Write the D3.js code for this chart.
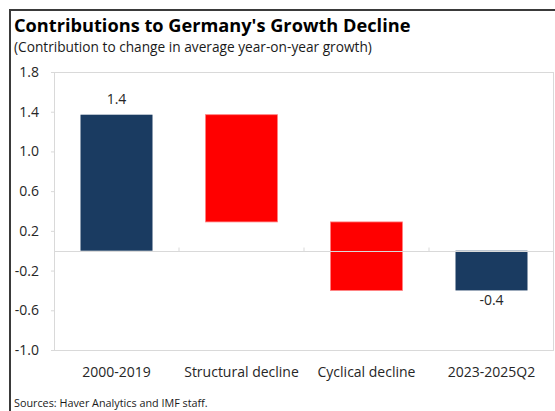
<!DOCTYPE html>
<html>
<head>
<meta charset="utf-8">
<script src="https://cdn.jsdelivr.net/npm/d3@7"></script>
<style>
  html, body { margin: 0; padding: 0; background: #fff; }
  svg { display: block; font-family: "Open Sans", "Noto Sans", sans-serif; }
</style>
</head>
<body>
<svg id="chart" width="555" height="411"></svg>
<script>
// Waterfall: starting growth, two contributions, ending growth
const categories = ["2000-2019", "Structural decline", "Cyclical decline", "2023-2025Q2"];
const values = [1.37, -1.08, -0.69, -0.40];
const kinds = ["total", "change", "change", "total"];
const yTicks = [-1.0, -0.6, -0.2, 0.2, 0.6, 1.0, 1.4, 1.8];

const title = "Contributions to Germany's Growth Decline";
const subtitle = "(Contribution to change in average year-on-year growth)";
const source = "Sources: Haver Analytics and IMF staff.";

const colors = { total: "#1a3b61", change: "#ff0000" };

const svg = d3.select("#chart");
const W = 555, H = 411;
const plot = { left: 54, top: 72, right: 553.5, bottom: 350 };

// build floating segments
let running = 0;
const bars = categories.map((c, i) => {
  let y0, y1;
  if (kinds[i] === "total") { y0 = 0; y1 = values[i]; running = values[i]; }
  else { y0 = running; y1 = running + values[i]; running = y1; }
  return { cat: c, kind: kinds[i], value: values[i], y0, y1 };
});

const x = d3.scaleBand()
  .domain(categories)
  .range([plot.left, 554])
  .paddingInner(0.424)
  .paddingOuter(0.212);

const y = d3.scaleLinear()
  .domain([-1.0, 1.8])
  .range([plot.bottom, plot.top]);

// outer frame (top and left edges visible)
svg.append("rect")
  .attr("x", 10).attr("y", 10)
  .attr("width", W + 10).attr("height", H + 10)
  .attr("fill", "none").attr("stroke", "#3a3a3a").attr("stroke-width", 2);

// titles
svg.append("text").attr("x", 14).attr("y", 32)
  .attr("font-size", 18.2).attr("font-weight", 700).attr("fill", "#000")
  .text(title);
svg.append("text").attr("x", 14).attr("y", 52)
  .attr("font-size", 13.7).attr("fill", "#1a1a1a")
  .text(subtitle);

// plot area border
svg.append("rect")
  .attr("x", plot.left + 0.5).attr("y", plot.top + 0.5)
  .attr("width", plot.right - plot.left - 0.5).attr("height", plot.bottom - plot.top)
  .attr("fill", "none").attr("stroke", "#d9d9d9").attr("stroke-width", 1);

// y axis
const yAxis = svg.append("g")
  .attr("transform", `translate(${plot.left},0)`)
  .call(d3.axisLeft(y).tickValues(yTicks).tickFormat(d3.format(".1f")).tickSize(3).tickPadding(12));
yAxis.select(".domain").remove();
yAxis.selectAll(".tick line").attr("stroke", "#d9d9d9");
yAxis.selectAll(".tick text")
  .attr("font-size", 14).attr("fill", "#262626")
  .attr("font-family", "'Open Sans', sans-serif")
  .text(d => d3.format(".1f")(d).replace("−", "-"));

// bars
svg.append("g").selectAll("rect")
  .data(bars)
  .join("rect")
  .attr("x", d => x(d.cat))
  .attr("width", x.bandwidth())
  .attr("y", d => y(Math.max(d.y0, d.y1)))
  .attr("height", d => Math.abs(y(d.y0) - y(d.y1)))
  .attr("fill", d => colors[d.kind])
  .attr("stroke", d => d.kind === "change" ? "#ff8080" : "none")
  .attr("stroke-width", 0.8);

// zero line with category ticks
const y0px = Math.round(y(0)) + 0.5;
svg.append("line")
  .attr("x1", plot.left).attr("x2", plot.right)
  .attr("y1", y0px).attr("y2", y0px)
  .attr("stroke", "#d9d9d9").attr("stroke-width", 1.2);
const boundaries = categories.slice(1).map(c => x(c) - x.step() * x.paddingInner() / 2);
svg.append("g").selectAll("line")
  .data(boundaries)
  .join("line")
  .attr("x1", d => d).attr("x2", d => d)
  .attr("y1", y0px - 4).attr("y2", y0px)
  .attr("stroke", "#d9d9d9");

// category labels
svg.append("g").selectAll("text")
  .data(categories)
  .join("text")
  .attr("x", d => x(d) + x.bandwidth() / 2)
  .attr("y", 377)
  .attr("text-anchor", "middle")
  .attr("font-size", 14).attr("fill", "#262626")
  .text(d => d);

// value labels on the totals
svg.append("g").selectAll("text")
  .data(bars.filter(d => d.kind === "total"))
  .join("text")
  .attr("x", d => x(d.cat) + x.bandwidth() / 2)
  .attr("y", d => d.value >= 0 ? y(d.y1) - 11 : y(d.y1) + 15)
  .attr("text-anchor", "middle")
  .attr("font-size", 14).attr("fill", "#262626")
  .text(d => d3.format(".1f")(d.value).replace("−", "-"));

// source note
svg.append("text").attr("x", 14).attr("y", 406.5)
  .attr("font-size", 10.8).attr("fill", "#1a1a1a")
  .text(source);
</script>
</body>
</html>
